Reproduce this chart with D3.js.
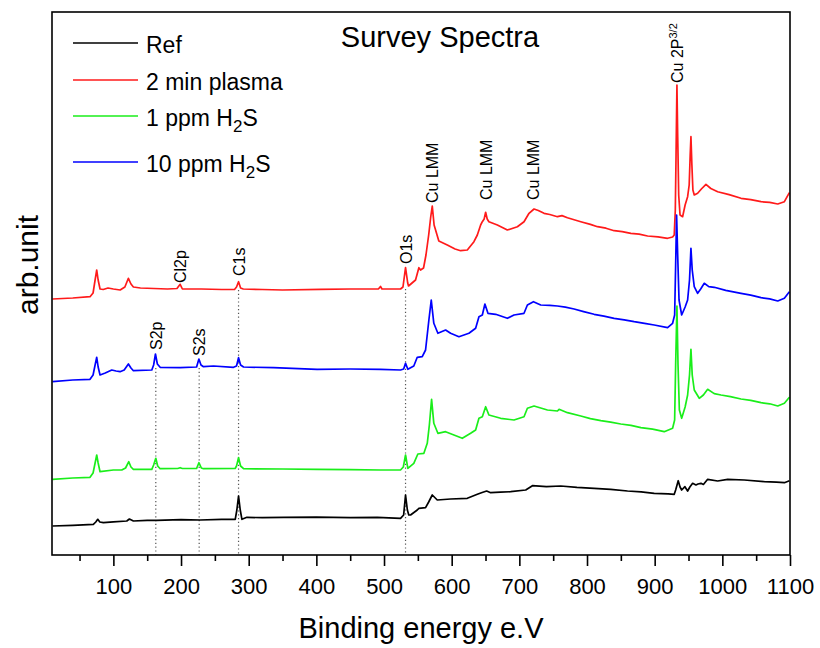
<!DOCTYPE html>
<html>
<head>
<meta charset="utf-8">
<script src="https://cdn.jsdelivr.net/npm/d3@7"></script>
<style>
  html, body { margin: 0; padding: 0; background: #fff; }
  svg { display: block; font-family: "Liberation Sans", Arial, sans-serif; }
</style>
</head>
<body>
<svg id="chart" width="820" height="648"></svg>
<script>
// XPS survey spectra: [binding energy (eV), intensity (arb. units, offset per sample)]
const refSpectrum = [
  [10, 29], [40, 29.7], [70.4, 30.7], [74, 33], [76.9, 35.7], [80, 33], [85.2, 32.3], [100, 33.2],
  [119.8, 34], [123.7, 36], [129.6, 34], [150, 34.6], [164.2, 34.7], [200, 35.3], [228.3, 35],
  [260, 35.6], [280.1, 35.7], [282.5, 45], [285, 59], [287.5, 45], [290, 35.7], [297.4, 37.7],
  [320, 37.3], [351.6, 37.7], [400, 37.9], [450.3, 37.3], [490, 37.6], [524.4, 36.7], [529, 40],
  [531.8, 60], [534.5, 45], [536.6, 40], [539.2, 40], [549.1, 45], [551.5, 46.7], [561.4, 47.3],
  [566, 53], [571.3, 60], [578.7, 55], [598.4, 56], [623.1, 56.7], [637.9, 60.7], [645, 62.5],
  [651.7, 64], [657.6, 62.3], [672, 62.8], [687.2, 63.3], [709.4, 65], [719.3, 69.3], [740, 68.4],
  [761.2, 69], [785, 67.6], [810.5, 66.7], [835, 65.6], [859.9, 64], [880, 63.1], [899.3, 61.7],
  [920, 61.2], [928.9, 60.7], [931, 65], [934.8, 74.3], [937.5, 68], [939.9, 65], [944.7, 68.3],
  [948.7, 64], [952, 68], [956.1, 71.7], [961, 70], [964, 71], [968.4, 71.7], [972, 70.5],
  [978.3, 75.7], [993.1, 74], [1007.9, 75.7], [1032.5, 75], [1062.1, 73.3], [1080, 72.8],
  [1091.7, 72.3], [1099.1, 74.3]
];

const plasmaSpectrum = [
  [10, 256], [40, 257], [65.5, 258.3], [70, 262], [73, 275], [75.4, 285], [77.5, 275], [80.3, 266],
  [85, 265.5], [92.1, 267], [100, 266], [110, 265], [117, 268], [122.2, 276.7], [126, 271],
  [129.6, 268], [140, 267], [160, 266.5], [180, 266], [194, 266.5], [198.7, 270.7], [202, 266],
  [230, 266], [260, 265.5], [279, 265.5], [282, 268], [285, 273.3], [288, 267], [292, 266],
  [320, 265.5], [350, 265], [405.9, 265.7], [450, 266], [492, 266.2], [494.8, 268.5], [497, 266],
  [524.4, 266], [528, 268], [531.8, 287.3], [535, 272], [536.2, 269], [546.6, 275], [551.5, 287.3],
  [554, 285], [558.4, 287], [562, 300], [566, 320], [569, 338], [571.3, 349], [574, 330],
  [576.2, 325], [581, 314], [593.5, 310], [605, 306], [613.2, 304.3], [623.1, 305], [632.9, 313.3],
  [637.9, 320], [642.8, 330], [645.3, 333.3], [648, 336], [650.2, 342.7], [652.5, 336], [655, 333.3],
  [667.5, 330], [682.3, 325], [697.1, 328.3], [706.9, 333.3], [714.3, 341.7], [721.7, 346],
  [728, 344.5], [736.5, 341.7], [745, 340.5], [756.3, 338.3], [763, 339.4], [771.1, 337.3],
  [790.8, 333.3], [805, 330.6], [815.5, 328.3], [828, 326.8], [840.1, 324.3], [852, 323.4],
  [864.8, 321.7], [877, 320.9], [889.5, 319], [905, 318.1], [919.1, 316.7], [926.5, 318],
  [928.9, 320], [930.5, 345], [931.6, 400], [932.9, 470], [934, 420], [935.5, 360], [937.5, 340],
  [941.3, 338.3], [945, 350], [948.7, 358.3], [951, 370], [952.5, 400], [953.6, 418.3], [955, 390],
  [956.5, 365], [958.5, 360], [963.5, 361.7], [969, 366], [975.8, 370.7], [983, 366.5],
  [993.1, 363.3], [1010, 360.4], [1027.6, 356.7], [1042, 355.4], [1057.2, 353.3], [1070, 352.6],
  [1081.9, 351], [1091.7, 353.3], [1099.1, 362.3]
];

const h2s1Spectrum = [
  [10, 75.7], [40, 77], [65.5, 77.7], [70, 82], [73, 92], [75.4, 100], [77.5, 92], [80.3, 83.3],
  [100, 85], [112.4, 85], [118, 87], [122.8, 93.3], [126, 88], [129.6, 85.7], [156.8, 85.7],
  [159.5, 90], [162.7, 96.7], [165.5, 89], [169.1, 86.3], [195, 86.5], [198.7, 87.3], [202, 86.5],
  [223, 86.5], [226.4, 92.3], [230, 87], [233.2, 86.3], [280, 86.5], [282, 89], [285, 97.3],
  [288, 89], [292.4, 86.3], [350, 86], [401.1, 85.7], [450, 85.4], [494.8, 85], [524.4, 85],
  [528.5, 88], [531.8, 100], [535.2, 86.7], [544, 91.7], [550, 101], [558.9, 101.7], [563.9, 111.7],
  [567, 130], [570.3, 155.7], [573.6, 131.7], [579.6, 121.7], [591, 123.3], [603.3, 120],
  [615.7, 116.7], [628, 121.7], [635.4, 125], [640.3, 136.7], [645.3, 138.3], [650.2, 148.3],
  [655, 140], [672.4, 136.7], [692.1, 135], [706.9, 138.3], [711.9, 146.7], [721.7, 149],
  [741.5, 145], [756.3, 144], [758.7, 145.7], [771.1, 142.3], [790.8, 139], [805, 136.4],
  [820.4, 134.3], [835, 132.9], [849.9, 131], [865, 129.6], [879.6, 127.3], [897, 125.8],
  [914.1, 123.3], [926.5, 126.7], [929.5, 135], [931, 190], [932.9, 249], [934.5, 190],
  [936.5, 145], [939.9, 136.7], [945, 148], [948.7, 160], [951.5, 180], [953.6, 205.7],
  [955.5, 180], [958.5, 165], [965.9, 156.7], [972, 160], [978.3, 165.7], [988, 161.4],
  [998, 160], [1012, 158.3], [1027.6, 156], [1042, 154.6], [1057.2, 152.3], [1070, 151.2],
  [1081.9, 149], [1091.7, 151.7], [1099.1, 157.7]
];

const h2s10Spectrum = [
  [10, 173.3], [40, 175], [65.5, 175.7], [70, 180], [73, 190], [75.4, 197.7], [77.5, 188],
  [80.3, 180], [88, 182], [97.6, 185], [104, 184], [109.9, 183.3], [116, 185], [122.2, 191],
  [126, 187], [129.6, 184.3], [156.8, 185], [159.5, 190], [162.2, 201], [165, 191], [169.1, 187.7],
  [198.7, 187.3], [223, 188], [226.4, 196], [229.5, 190], [233.2, 188.3], [248, 189],
  [277.6, 187.7], [282, 189], [285, 197.3], [288, 190], [292.4, 188], [336.8, 187.3],
  [401.1, 185.7], [450, 186], [494.8, 185.7], [524.4, 185], [529, 186], [531.8, 191.7],
  [535.2, 185.7], [544, 189], [549.1, 197.7], [556.5, 198.3], [561.4, 205], [566.3, 235],
  [569.8, 255], [573.6, 231.7], [579.6, 221.7], [591, 225], [598.4, 221.7], [610.7, 218.3],
  [625.5, 221.7], [635.4, 226.7], [640.3, 238.3], [645.3, 240], [649.1, 251], [653.6, 241.7],
  [665, 240.7], [682.3, 236.7], [692.1, 240], [706.9, 241.7], [711.9, 250], [720.8, 253.3],
  [731.6, 250], [745, 249.6], [756.3, 249], [768, 247.8], [780.9, 246], [795, 243.4],
  [810.5, 240.7], [825, 238.9], [840.1, 236.7], [855, 235.2], [869.7, 233.3], [885, 231.6],
  [899.3, 230], [919.1, 227.3], [926.5, 231.7], [929.5, 240], [931, 290], [932.4, 340], [934, 300],
  [936, 255], [939.9, 240], [945, 248], [948.7, 255], [951.5, 275], [953.6, 306.7], [955.5, 285],
  [958.5, 268.3], [963.5, 261.7], [968, 266], [973.3, 271.7], [980, 268.4], [988.1, 267.7],
  [1005, 264.6], [1027.6, 261.7], [1042, 259.8], [1057.2, 257.3], [1070, 256.1], [1081.9, 254],
  [1091.7, 256.7], [1099.1, 263.3]
];

const seriesNames = ["Ref", "2 min plasma", "1 ppm H2S", "10 ppm H2S"];
const seriesData = [refSpectrum, plasmaSpectrum, h2s1Spectrum, h2s10Spectrum];
const seriesColors = ["#000000", "#ff1a1a", "#1aee1a", "#0000ff"];

const xTickValues = [100, 200, 300, 400, 500, 600, 700, 800, 900, 1000, 1100];
const xMinorTicks = [50, 150, 250, 350, 450, 550, 650, 750, 850, 950, 1050];

// Peak assignments: label, energy (eV), label foot (arb), dotted guide start (arb, null = no guide)
const peakLabels = ["S2p", "S2s", "Cl2p", "C1s", "O1s", "Cu LMM", "Cu LMM", "Cu LMM", "Cu 2P"];
const peakEnergies = [162.7, 226.8, 198.7, 285, 531.8, 570.3, 650, 720.8, 932.9];
const peakLabelFoot = [205, 199, 272, 279, 291, 352, 355, 355, 472];
const peakGuideTop = [187, 187, null, 265, 266, null, null, null, null];

const svg = d3.select("#chart");
const plot = { left: 52, right: 790, top: 12, bottom: 555 };

const x = d3.scaleLinear().domain([9.3, 1100]).range([plot.left, plot.right]);
const y = d3.scaleLinear().domain([0, 543]).range([plot.bottom, plot.top]);

// dotted guides below labelled peaks
peakEnergies.forEach((e, i) => {
  if (peakGuideTop[i] === null) return;
  svg.append("line")
    .attr("x1", x(e)).attr("x2", x(e))
    .attr("y1", y(peakGuideTop[i])).attr("y2", plot.bottom)
    .attr("stroke", "#555").attr("stroke-width", 1.2)
    .attr("stroke-dasharray", "1.2,2.6");
});

// spectra
const line = d3.line().x(d => x(d[0])).y(d => y(d[1])).curve(d3.curveLinear);
seriesData.forEach((data, i) => {
  svg.append("path")
    .datum(data)
    .attr("d", line)
    .attr("fill", "none")
    .attr("stroke", seriesColors[i])
    .attr("stroke-width", 1.7)
    .attr("stroke-linejoin", "round");
});

// frame
svg.append("rect")
  .attr("x", plot.left).attr("y", plot.top)
  .attr("width", plot.right - plot.left).attr("height", plot.bottom - plot.top)
  .attr("fill", "none").attr("stroke", "#000").attr("stroke-width", 1.6);

// x axis: major and minor ticks
const axisMajor = d3.axisBottom(x).tickValues(xTickValues).tickSize(11).tickPadding(12)
  .tickFormat(d3.format("d"));
const gMajor = svg.append("g").attr("transform", `translate(0,${plot.bottom})`).call(axisMajor);
gMajor.select(".domain").remove();
gMajor.selectAll(".tick line").attr("stroke", "#000").attr("stroke-width", 1.6);
gMajor.selectAll(".tick text")
  .attr("fill", "#000")
  .style("font-family", "'Liberation Sans', Arial, sans-serif")
  .style("font-size", "22px");

const axisMinor = d3.axisBottom(x).tickValues(xMinorTicks).tickSize(6).tickFormat("");
const gMinor = svg.append("g").attr("transform", `translate(0,${plot.bottom})`).call(axisMinor);
gMinor.select(".domain").remove();
gMinor.selectAll(".tick line").attr("stroke", "#000").attr("stroke-width", 1.6);

// axis titles and chart title
svg.append("text")
  .attr("x", 421).attr("y", 638)
  .attr("text-anchor", "middle")
  .style("font-size", "29px")
  .text("Binding energy e.V");

svg.append("text")
  .attr("transform", "translate(38,265) rotate(-90)")
  .attr("text-anchor", "middle")
  .style("font-size", "30px")
  .text("arb.unit");

svg.append("text")
  .attr("x", 440).attr("y", 47)
  .attr("text-anchor", "middle")
  .style("font-size", "29px")
  .text("Survey Spectra");

// peak labels (rotated)
peakLabels.forEach((lab, i) => {
  const t = svg.append("text")
    .attr("transform", `translate(${x(peakEnergies[i]) + 6},${y(peakLabelFoot[i])}) rotate(-90)`)
    .attr("text-anchor", "start")
    .style("font-size", "16px")
    .text(lab);
  if (lab === "Cu 2P") {
    t.append("tspan").attr("dy", -6).style("font-size", "11px").text("3/2");
  }
});

// legend
const legendRows = [43, 80, 116, 162];
const legend = svg.append("g");
seriesNames.forEach((name, i) => {
  const ly = legendRows[i];
  legend.append("line")
    .attr("x1", 73).attr("x2", 138).attr("y1", ly).attr("y2", ly)
    .attr("stroke", seriesColors[i]).attr("stroke-width", 1.6);
  const t = legend.append("text")
    .attr("x", 146).attr("y", ly + 10)
    .style("font-size", "23px");
  const m = name.match(/^(.*H)2(S)$/);
  if (m) {
    t.append("tspan").text(m[1]);
    t.append("tspan").attr("dy", 6).style("font-size", "17px").text("2");
    t.append("tspan").attr("dy", -6).text(m[2]);
  } else {
    t.text(name);
  }
});
</script>
</body>
</html>
